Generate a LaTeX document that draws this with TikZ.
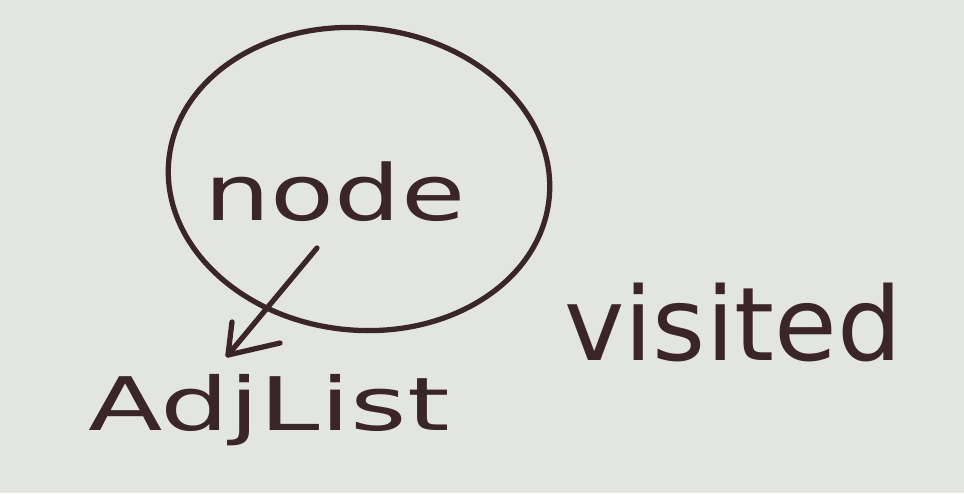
\documentclass[tikz,border=0pt]{standalone}
\usepackage{fontspec}
\setmainfont{DejaVu Sans}
\usetikzlibrary{shapes.geometric}
\definecolor{paper}{HTML}{E3E5E0}
\definecolor{ink}{HTML}{3A2626}
\begin{document}
\begin{tikzpicture}[x=0.01cm,y=-0.01cm,
  hand/.style={text=ink,inner sep=0pt,anchor=base},
  stroke/.style={draw=ink,line width=1.5pt,line cap=round,line join=round}]
\fill[paper] (0,0) rectangle (964,493);
\useasboundingbox (0,0) rectangle (964,493);
\node[stroke,ellipse,minimum width=3.82cm,minimum height=3.02cm,inner sep=0pt,rotate=-6] (circ) at (359,179) {};
\node[hand,font=\fontsize{22}{26}\selectfont,xscale=1.35] (nodetxt) at (335,220) {node};
\node[hand,font=\fontsize{21}{25}\selectfont,xscale=1.47] (adj) at (269,430) {AdjList};
\node[hand,font=\fontsize{29}{34}\selectfont] (vis) at (733,360) {visited};
\coordinate (a1) at (317,248);
\coordinate (tip) at (228,355);
\coordinate (h1) at (232,322);
\coordinate (h2) at (280,343);
\draw[stroke] (a1) -- (tip);
\draw[stroke] (h1) -- (tip) -- (h2);
\end{tikzpicture}
\end{document}
